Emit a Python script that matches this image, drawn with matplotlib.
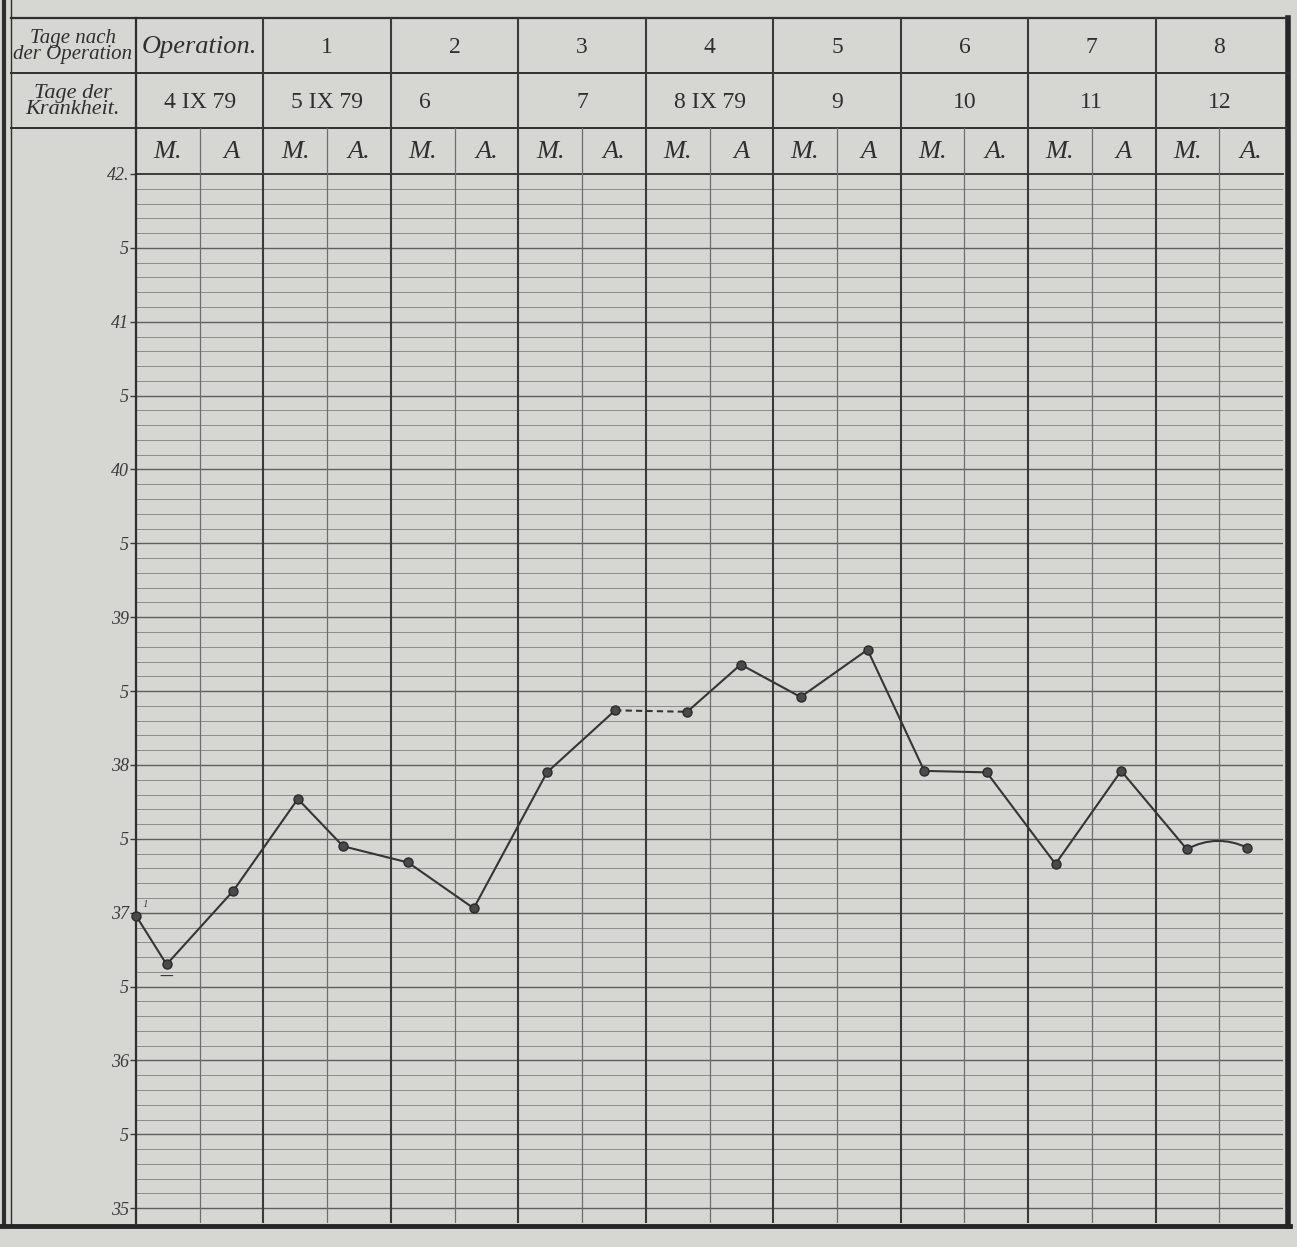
import matplotlib.pyplot as plt
import numpy as np

# header rows of the sheet
days_after_op = ["Operation.", "1", "2", "3", "4", "5", "6", "7", "8"]
days_of_illness = ["4 IX 79", "5 IX 79", "6", "7", "8 IX 79", "9", "10", "11", "12"]
half_days = ["M.", "A", "M.", "A.", "M.", "A.", "M.", "A.", "M.", "A",
             "M.", "A", "M.", "A.", "M.", "A", "M.", "A."]

# temperature scale labels (every half degree)
temp_ticks = np.arange(35, 42.5, 0.5)
temp_ticklabels = ["35", "5", "36", "5", "37", "5", "38", "5",
                   "39", "5", "40", "5", "41", "5", "42."]

# readings: position in half-days from the operation, temperature in °C
reading_pos = [0.0, 0.48, 1.53, 2.54, 3.25, 4.27, 5.30, 6.45, 7.52, 8.65,
               9.49, 10.43, 11.48, 12.37, 13.35, 14.43, 15.46, 16.49, 17.44]
reading_temp = [36.98, 36.65, 37.15, 37.77, 37.45, 37.34, 37.03, 37.95, 38.37, 38.36,
                38.68, 38.46, 38.78, 37.96, 37.95, 37.33, 37.96, 37.43, 37.44]

PAPER = "#d6d6d2"
INK = "#2f2f2f"
SERIF = ["Liberation Serif", "DejaVu Serif"]

W, H = 1297, 1247
fig = plt.figure(figsize=(W / 100, H / 100), dpi=100, facecolor=PAPER)

# grid box (pixels)
gx0, gx1, gy0, gy1 = 136, 1283, 174, 1223
ax = fig.add_axes([gx0 / W, 1 - gy1 / H, (gx1 - gx0) / W, (gy1 - gy0) / H])
ax.set_facecolor(PAPER)
ax.set_xlim(0, 18)
ax.set_ylim(34.9, 42)

# ruled paper
for t in np.arange(349, 420) / 10:
    major = abs(t * 2 - round(t * 2)) < 1e-6
    ax.axhline(t, color="#5e5e5e" if major else "#8c8c8a",
               lw=1.0 if major else 0.7, zorder=1)
for k in range(1, 18):
    if k % 2 == 0:
        ax.axvline(k, color="#3a3a3a", lw=1.5, zorder=1)
    else:
        ax.axvline(k, color="#6e6e6e", lw=0.9, zorder=1)

ax.set_xticks([])
ax.set_yticks(temp_ticks)
ax.set_yticklabels(temp_ticklabels, family=SERIF, style="italic",
                   fontsize=13, color="#3a3a3a")
ax.tick_params(axis="y", length=4, width=1, color="#3a3a3a", pad=1)
for side, lw in [("left", 1.6), ("top", 1.3), ("right", 0), ("bottom", 0)]:
    ax.spines[side].set_linewidth(lw)
    ax.spines[side].set_color(INK)

# temperature curve
x = np.array(reading_pos)
y = np.array(reading_temp)
solid = dict(color="#353535", lw=1.5, zorder=3)
ax.plot(x[:9], y[:9], **solid)
ax.plot(x[8:10], y[8:10], color="#353535", lw=1.5, ls=(0, (3, 2)), zorder=3)
ax.plot(x[9:18], y[9:18], **solid)
ax.annotate("", xy=(x[18], y[18]), xytext=(x[17], y[17]),
            arrowprops=dict(arrowstyle="-", color="#353535", lw=1.5,
                            connectionstyle="arc3,rad=-0.25",
                            shrinkA=0, shrinkB=0), zorder=3)
ax.plot(x, y, "o", ms=6.5, color="#4a4a4a", mec="#2a2a2a", mew=1, zorder=4,
        clip_on=False)
ax.annotate("1", xy=(x[0], y[0]), xytext=(5, 6), textcoords="offset points",
            fontsize=8, family=SERIF, style="italic", color="#444444")
ax.annotate("\u2014", xy=(x[1], y[1]), xytext=(0, -12), textcoords="offset points",
            ha="center", fontsize=10, color="#333333")

# header table and sheet frame, drawn in pixel space
ov = fig.add_axes([0, 0, 1, 1], facecolor="none")
ov.set_xlim(0, W)
ov.set_ylim(H, 0)
ov.axis("off")

ty0, ty1, ty2 = 18, 73, 128
day_w = (gx1 - gx0) / 9
half_w = day_w / 2

ov.plot([4, 4], [0, 1226], color=INK, lw=3)
ov.plot([11, 11], [0, 1226], color=INK, lw=1)
ov.plot([0, 1290], [1226, 1226], color="#262626", lw=3.5)
ov.plot([1288, 1288], [ty0, 1226], color="#262626", lw=4)
for yy, lw in [(ty0, 1.6), (ty1, 1.4), (ty2, 1.4)]:
    ov.plot([11, 1288], [yy, yy], color=INK, lw=lw)
ov.plot([gx0, gx0], [ty0, gy0], color=INK, lw=1.6)
for k in range(1, 9):
    xx = gx0 + k * day_w
    ov.plot([xx, xx], [ty0, gy0], color="#3a3a3a", lw=1.5)
for k in range(9):
    xx = gx0 + k * day_w + half_w
    ov.plot([xx, xx], [ty2, gy0], color="#6e6e6e", lw=0.9)

ov.text(73, (ty0 + ty1) / 2 + 1, "Tage nach\nder Operation", ha="center", va="center",
        family=SERIF, style="italic", fontsize=15, linespacing=0.75, color=INK)
ov.text(73, (ty1 + ty2) / 2 + 1, "Tage der\nKrankheit.", ha="center", va="center",
        family=SERIF, style="italic", fontsize=16, linespacing=0.75, color=INK)

nudge = {"6": -30}
for k, (a, b) in enumerate(zip(days_after_op, days_of_illness)):
    cx = gx0 + (k + 0.5) * day_w
    if k == 0:
        ov.text(cx, (ty0 + ty1) / 2 + 2, a, ha="center", va="center", family=SERIF,
                style="italic", fontsize=19, color=INK)
    else:
        ov.text(cx, (ty0 + ty1) / 2 + 2, a, ha="center", va="center", family=SERIF,
                fontsize=17, color=INK)
    ov.text(cx + nudge.get(b, 0), (ty1 + ty2) / 2 + 2, b, ha="center", va="center",
            family=SERIF, fontsize=17, color=INK)

for k, lab in enumerate(half_days):
    cx = gx0 + (k + 0.5) * half_w
    ov.text(cx, (ty2 + gy0) / 2 + 1, lab, ha="center", va="center", family=SERIF,
            style="italic", fontsize=19, color=INK)

fig.savefig("out.png", dpi=100, facecolor=PAPER)
